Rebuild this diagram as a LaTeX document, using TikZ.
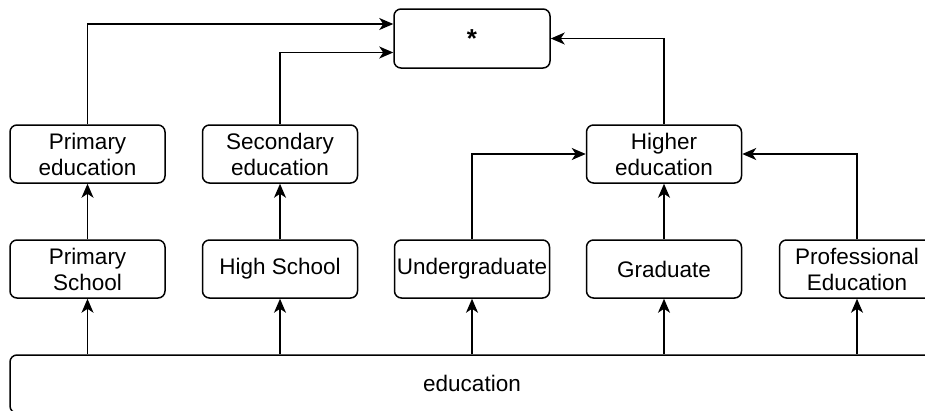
\documentclass[tikz,border=0pt]{standalone}
\usepackage{fontspec}
\setmainfont{Liberation Sans}
\usetikzlibrary{arrows.meta}

\begin{document}
\begin{tikzpicture}[x=1pt, y=-1pt,
		box/.style={draw, line width=1.5pt, rounded corners=7pt, minimum width=155pt, minimum height=58pt, align=center, inner sep=0pt, font=\fontsize{22.5}{26}\selectfont},
		arr/.style={-{Stealth[length=14pt, width=12pt, inset=4pt]}, line width=1.5pt}]
		\useasboundingbox (0,0) rectangle (925,410);
		\node[box, minimum width=156pt, minimum height=59pt, font=\fontsize{26}{26}\selectfont\bfseries] (star) at (472,38.5) {*};
		\node[box] (pe) at (87.5,154) {Primary\\education};
		\node[box] (se) at (280,154) {Secondary\\education};
		\node[box] (he) at (664,154) {Higher\\education};
		\node[box] (ps) at (87.5,269) {Primary\\School};
		\node[box] (hs) at (280,269) {High School};
		\node[box] (ug) at (472,269) {Undergraduate};
		\node[box] (gr) at (664,269) {Graduate};
		\node[box] (pro) at (857,269) {Professional\\Education};
		\node[box, minimum width=1000pt] (edu) at (510,384) {};
		\node[font=\fontsize{22.5}{26}\selectfont] (edulabel) at (472,383) {education};
		\draw[arr] (edu.north -| ps) -- (ps);
		\draw[arr] (edu.north -| hs) -- (hs);
		\draw[arr] (edu.north -| ug) -- (ug);
		\draw[arr] (edu.north -| gr) -- (gr);
		\draw[arr] (edu.north -| pro) -- (pro);
		\draw[arr] (ps) -- (pe);
		\draw[arr] (hs) -- (se);
		\draw[arr] (gr) -- (he);
		\draw[arr] (ug.north) |- (he.west);
		\draw[arr] (pro.north) |- (he.east);
		\draw[arr] (pe.north) |- ([yshift=14.5pt]star.west);
		\draw[arr] (se.north) |- ([yshift=-14pt]star.west);
		\draw[arr] (he.north) |- (star.east);
	\end{tikzpicture}
\end{document}
